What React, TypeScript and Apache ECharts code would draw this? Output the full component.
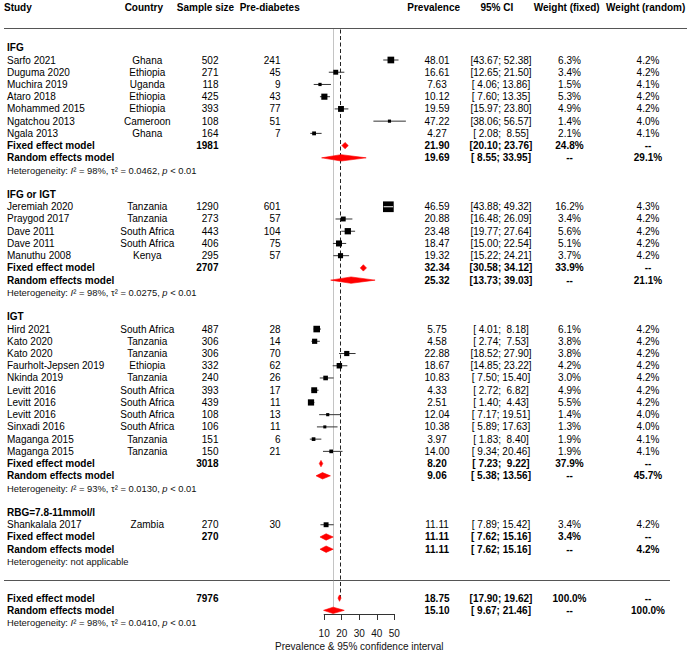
import React, { useEffect, useRef } from 'react';
import * as echarts from 'echarts';

// ---------- DATA ----------
const columnHeaders = ['Study', 'Country', 'Sample size', 'Pre-diabetes', 'Prevalence', '95% CI', 'Weight (fixed)', 'Weight (random)'];
const subgroups = ['IFG', 'IFG or IGT', 'IGT', 'RBG=7.8-11mmol/l'];
const studySubgroup = [0, 0, 0, 0, 0, 0, 0, 1, 1, 1, 1, 1, 2, 2, 2, 2, 2, 2, 2, 2, 2, 2, 2, 3];
const studies = [
  'Sarfo 2021', 'Duguma 2020', 'Muchira 2019', 'Ataro 2018', 'Mohammed 2015', 'Ngatchou 2013', 'Ngala 2013',
  'Jeremiah 2020', 'Praygod 2017', 'Dave 2011', 'Dave 2011', 'Manuthu 2008',
  'Hird 2021', 'Kato 2020', 'Kato 2020', 'Faurholt-Jepsen 2019', 'Nkinda 2019', 'Levitt 2016', 'Levitt 2016', 'Levitt 2016', 'Sinxadi 2016', 'Maganga 2015', 'Maganga 2015',
  'Shankalala 2017',
];
const countries = [
  'Ghana', 'Ethiopia', 'Uganda', 'Ethiopia', 'Ethiopia', 'Cameroon', 'Ghana',
  'Tanzania', 'Tanzania', 'South Africa', 'South Africa', 'Kenya',
  'South Africa', 'Tanzania', 'Tanzania', 'Ethiopia', 'Tanzania', 'South Africa', 'South Africa', 'South Africa', 'South Africa', 'Tanzania', 'Tanzania',
  'Zambia',
];
const sampleSizes = [502, 271, 118, 425, 393, 108, 164, 1290, 273, 443, 406, 295, 487, 306, 306, 332, 240, 393, 439, 108, 106, 151, 150, 270];
const preDiabetes = [241, 45, 9, 43, 77, 51, 7, 601, 57, 104, 75, 57, 28, 14, 70, 62, 26, 17, 11, 13, 11, 6, 21, 30];
const prevalence = [48.01, 16.61, 7.63, 10.12, 19.59, 47.22, 4.27, 46.59, 20.88, 23.48, 18.47, 19.32, 5.75, 4.58, 22.88, 18.67, 10.83, 4.33, 2.51, 12.04, 10.38, 3.97, 14.0, 11.11];
const ciLower = [43.67, 12.65, 4.06, 7.6, 15.97, 38.06, 2.08, 43.88, 16.48, 19.77, 15.0, 15.22, 4.01, 2.74, 18.52, 14.85, 7.5, 2.72, 1.4, 7.17, 5.89, 1.83, 9.34, 7.89];
const ciUpper = [52.38, 21.5, 13.86, 13.35, 23.8, 56.57, 8.55, 49.32, 26.09, 27.64, 22.54, 24.21, 8.18, 7.53, 27.9, 23.22, 15.4, 6.82, 4.43, 19.51, 17.63, 8.4, 20.46, 15.42];
const weightFixed = [6.3, 3.4, 1.5, 5.3, 4.9, 1.4, 2.1, 16.2, 3.4, 5.6, 5.1, 3.7, 6.1, 3.8, 3.8, 4.2, 3.0, 4.9, 5.5, 1.4, 1.3, 1.9, 1.9, 3.4];
const weightRandom = [4.2, 4.2, 4.1, 4.2, 4.2, 4.0, 4.1, 4.3, 4.2, 4.2, 4.2, 4.2, 4.2, 4.2, 4.2, 4.2, 4.2, 4.2, 4.2, 4.0, 4.0, 4.1, 4.1, 4.2];

const fixedTotals = [1981, 2707, 3018, 270];
const fixedEstimate = [21.9, 32.34, 8.2, 11.11];
const fixedLower = [20.1, 30.58, 7.23, 7.62];
const fixedUpper = [23.76, 34.12, 9.22, 15.16];
const fixedWeight = [24.8, 33.9, 37.9, 3.4];
const randomEstimate = [19.69, 25.32, 9.06, 11.11];
const randomLower = [8.55, 13.73, 5.38, 7.62];
const randomUpper = [33.95, 39.03, 13.56, 15.16];
const randomWeight = [29.1, 21.1, 45.7, 4.2];
const hetI2 = [98, 98, 93, null];
const hetTau2 = ['0.0462', '0.0275', '0.0130', null];
const hetP = ['< 0.01', '< 0.01', '< 0.01', null];

const overallTotal = 7976;
const overallFixed = [18.75, 17.9, 19.62];
const overallRandom = [15.1, 9.67, 21.46];
const overallI2 = 98;
const overallTau2 = '0.0410';
const overallP = '< 0.01';
const axisTicks = [10, 20, 30, 40, 50];
const axisTitle = 'Prevalence & 95% confidence interval';

// ---------- LAYOUT ----------
const FONT = '"Liberation Sans", Arial, sans-serif';
const X0 = 306.6; // pixel of value 0
const PX = 1.755; // pixels per unit
const ROW0 = 60; // pixel of row 0
const PITCH = 12.23;
const Y_MIN = -4.5;
const Y_MAX = 47;
const HEADER_ROW = -4.33;
const TOP_LINE_Y = 28.5;
const BOX_K = 2.66;
const DIAMOND_H = 3.2;

const COLS = [
  { x: 7, align: 'left' },
  { x: 147.3, align: 'center' },
  { x: 218.5, align: 'right' },
  { x: 280.5, align: 'right' },
  { x: 437, align: 'center' },
  { x: 501, align: 'center' },
  { x: 569.5, align: 'center' },
  { x: 648, align: 'center' },
];
const HEAD_COLS = [
  { x: 4, align: 'left' },
  { x: 143.8, align: 'center' },
  { x: 205.5, align: 'center' },
  { x: 269.7, align: 'center' },
  { x: 433.7, align: 'center' },
  { x: 496.8, align: 'center' },
  { x: 566.7, align: 'center' },
  { x: 645.7, align: 'center' },
];

const f2 = (v: number) => v.toFixed(2);
const pad5 = (v: number) => {
  const s = f2(v);
  return s.length < 5 ? ' '.repeat(5 - s.length) + s : s;
};
const ci = (lo: number, hi: number) => `[${pad5(lo)}; ${pad5(hi)}]`;
const pct = (v: number) => v.toFixed(1) + '%';
const het = (i2: number | null, tau2: string | null, p: string | null) =>
  i2 == null ? 'Heterogeneity: not applicable' : `Heterogeneity: {i|I}\u00B2 = ${i2}%, \u03C4\u00B2 = ${tau2}, {i|p} ${p}`;

type Row = { row: number; kind: string; cells: string[] };
const rows: Row[] = [];
const studyMarks: number[][] = [];
const diamonds: number[][] = [];

rows.push({ row: HEADER_ROW, kind: 'header', cells: columnHeaders });
let r = -1;
subgroups.forEach((g, gi) => {
  rows.push({ row: r, kind: 'group', cells: [g] });
  r++;
  studies.forEach((s, i) => {
    if (studySubgroup[i] !== gi) return;
    rows.push({
      row: r,
      kind: 'study',
      cells: [s, countries[i], String(sampleSizes[i]), String(preDiabetes[i]), f2(prevalence[i]), ci(ciLower[i], ciUpper[i]), pct(weightFixed[i]), pct(weightRandom[i])],
    });
    studyMarks.push([prevalence[i], r, ciLower[i], ciUpper[i], weightFixed[i]]);
    r++;
  });
  rows.push({
    row: r,
    kind: 'fixed',
    cells: ['Fixed effect model', '', String(fixedTotals[gi]), '', f2(fixedEstimate[gi]), ci(fixedLower[gi], fixedUpper[gi]), pct(fixedWeight[gi]), '--'],
  });
  diamonds.push([fixedEstimate[gi], r, fixedLower[gi], fixedUpper[gi]]);
  r++;
  rows.push({
    row: r,
    kind: 'random',
    cells: ['Random effects model', '', '', '', f2(randomEstimate[gi]), ci(randomLower[gi], randomUpper[gi]), '--', pct(randomWeight[gi])],
  });
  diamonds.push([randomEstimate[gi], r, randomLower[gi], randomUpper[gi]]);
  r++;
  rows.push({ row: r, kind: 'het', cells: [het(hetI2[gi], hetTau2[gi], hetP[gi])] });
  r++;
  r++; // blank
});
const SEP_ROW = r - 0.5;
r++;
rows.push({
  row: r,
  kind: 'fixed',
  cells: ['Fixed effect model', '', String(overallTotal), '', f2(overallFixed[0]), ci(overallFixed[1], overallFixed[2]), pct(100), '--'],
});
diamonds.push([overallFixed[0], r, overallFixed[1], overallFixed[2]]);
const overallFixedRow = r;
r++;
rows.push({
  row: r,
  kind: 'random',
  cells: ['Random effects model', '', '', '', f2(overallRandom[0]), ci(overallRandom[1], overallRandom[2]), '--', pct(100)],
});
diamonds.push([overallRandom[0], r, overallRandom[1], overallRandom[2]]);
const overallRandomRow = r;
r++;
rows.push({ row: r, kind: 'het', cells: [het(overallI2, overallTau2, overallP)] });

const refLines = [
  [overallFixed[0], overallFixedRow, 0],
  [overallRandom[0], overallRandomRow, 1],
];

const gridTop = ROW0 + Y_MIN * PITCH;
const gridHeight = (Y_MAX - Y_MIN) * PITCH;
const sepY = Math.round(ROW0 + SEP_ROW * PITCH) + 0.5;

const option: any = {
  animation: false,
  textStyle: { fontFamily: FONT },
  grid: [
    { left: X0, width: 60 * PX, top: gridTop, height: gridHeight },
    { left: X0 + axisTicks[0] * PX, width: (axisTicks[axisTicks.length - 1] - axisTicks[0]) * PX, top: 600, height: 14 },
  ],
  xAxis: [
    { gridIndex: 0, type: 'value', min: 0, max: 60, show: false },
    {
      gridIndex: 1,
      type: 'value',
      min: axisTicks[0],
      max: axisTicks[axisTicks.length - 1],
      interval: 10,
      position: 'bottom',
      axisLine: { show: true, lineStyle: { color: '#333', width: 1 } },
      axisTick: { show: true, length: 6, inside: false, lineStyle: { color: '#333', width: 1 } },
      axisLabel: { fontSize: 10, color: '#111', margin: 14, fontFamily: FONT },
      splitLine: { show: false },
      name: axisTitle,
      nameLocation: 'middle',
      nameGap: 27,
      nameTextStyle: { fontSize: 10, color: '#111', fontFamily: FONT },
    },
  ],
  yAxis: [
    { gridIndex: 0, type: 'value', min: Y_MIN, max: Y_MAX, inverse: true, show: false },
    { gridIndex: 1, type: 'value', min: 0, max: 1, show: false },
  ],
  graphic: [
    { type: 'line', shape: { x1: 4, y1: TOP_LINE_Y, x2: 687, y2: TOP_LINE_Y }, style: { stroke: '#555', lineWidth: 1 } },
    { type: 'line', shape: { x1: 4, y1: sepY, x2: 670, y2: sepY }, style: { stroke: '#555', lineWidth: 1 } },
  ],
  series: [
    {
      type: 'scatter',
      xAxisIndex: 1,
      yAxisIndex: 1,
      data: [],
      silent: true,
    },
    {
      // reference lines
      type: 'custom',
      xAxisIndex: 0,
      yAxisIndex: 0,
      z: 1,
      silent: true,
      data: refLines,
      encode: { x: 0, y: 1 },
      renderItem: (params: any, api: any) => {
        const [x, yb] = api.coord([api.value(0), api.value(1)]);
        const kind = api.value(2);
        const xr = Math.round(x) + 0.5;
        return {
          type: 'line',
          shape: { x1: xr, y1: TOP_LINE_Y + 1, x2: xr, y2: yb },
          style:
            kind === 0
              ? { stroke: '#222', lineWidth: 1, lineDash: [4, 2.5] }
              : { stroke: '#888', lineWidth: 1, lineDash: [1, 1] },
        };
      },
    },
    {
      // study CI + squares
      type: 'custom',
      xAxisIndex: 0,
      yAxisIndex: 0,
      z: 2,
      silent: true,
      data: studyMarks,
      encode: { x: 0, y: 1 },
      renderItem: (params: any, api: any) => {
        const row = api.value(1);
        const [cx, cy] = api.coord([api.value(0), row]);
        const xl = api.coord([api.value(2), row])[0];
        const xh = api.coord([api.value(3), row])[0];
        const s = BOX_K * Math.sqrt(api.value(4));
        const children: any[] = [
          { type: 'line', shape: { x1: xl, y1: cy, x2: xh, y2: cy }, style: { stroke: '#333', lineWidth: 1 } },
          { type: 'rect', shape: { x: cx - s / 2, y: cy - s / 2, width: s, height: s }, style: { fill: '#000' } },
        ];
        if (s - (xh - xl) > 1) {
          children.push({ type: 'line', shape: { x1: xl, y1: cy, x2: xh, y2: cy }, style: { stroke: '#fff', lineWidth: 1 } });
        }
        return { type: 'group', children };
      },
    },
    {
      // diamonds
      type: 'custom',
      xAxisIndex: 0,
      yAxisIndex: 0,
      z: 3,
      silent: true,
      data: diamonds,
      encode: { x: 0, y: 1 },
      renderItem: (params: any, api: any) => {
        const row = api.value(1);
        const [cx, cy] = api.coord([api.value(0), row]);
        const xl = api.coord([api.value(2), row])[0];
        const xh = api.coord([api.value(3), row])[0];
        return {
          type: 'polygon',
          shape: {
            points: [
              [xl, cy],
              [cx, cy - DIAMOND_H],
              [xh, cy],
              [cx, cy + DIAMOND_H],
            ],
          },
          style: { fill: '#ff0000', stroke: '#ff0000', lineWidth: 0.6 },
        };
      },
    },
    {
      // table text
      type: 'custom',
      xAxisIndex: 0,
      yAxisIndex: 0,
      z: 4,
      silent: true,
      clip: false,
      data: rows.map((rw, i) => [0, rw.row, i]),
      encode: { x: 0, y: 1 },
      renderItem: (params: any, api: any) => {
        const item = rows[api.value(2)];
        const y = api.coord([0, api.value(1)])[1];
        const bold = item.kind !== 'study' && item.kind !== 'het';
        const cols = item.kind === 'header' ? HEAD_COLS : COLS;
        const children: any[] = [];
        item.cells.forEach((t, ci) => {
          if (!t) return;
          if (item.kind === 'het') {
            children.push({
              type: 'text',
              style: {
                text: t,
                x: cols[ci].x,
                y,
                fill: '#111',
                fontSize: 9.4,
                fontFamily: FONT,
                align: 'left',
                verticalAlign: 'middle',
                rich: { i: { fontSize: 9.4, fontStyle: 'italic', fontFamily: FONT, fill: '#111' } },
              },
            });
            return;
          }
          children.push({
            type: 'text',
            style: {
              text: t,
              x: cols[ci].x,
              y,
              fill: '#000',
              fontSize: 10,
              fontWeight: bold ? 'bold' : 'normal',
              fontFamily: FONT,
              align: cols[ci].align,
              verticalAlign: 'middle',
            },
          });
        });
        return { type: 'group', children };
      },
    },
  ],
};

export default function App() {
  const ref = useRef<HTMLDivElement>(null);
  useEffect(() => {
    const chart = echarts.init(ref.current!, null, { renderer: 'svg' });
    chart.setOption(option);
    return () => chart.dispose();
  }, []);
  return <div ref={ref} style={{ position: 'absolute', left: 0, top: 0, width: 700, height: 653, background: '#fff' }} />;
}
